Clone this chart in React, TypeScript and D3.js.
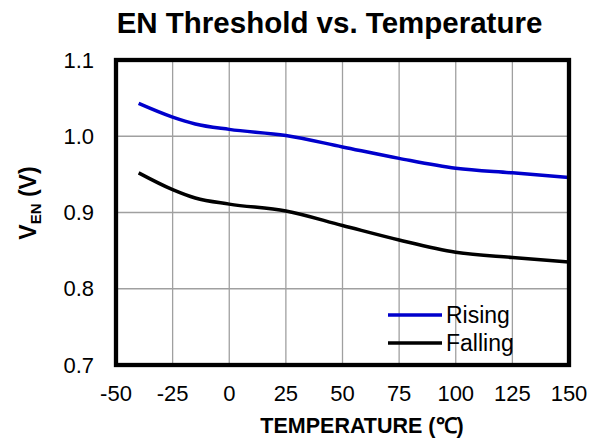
import React from "react";
import * as d3 from "d3";

const temps = [-40, -25, -15, 0, 25, 50, 75, 100, 125, 150];
const rising = [1.043, 1.025, 1.016, 1.009, 1.001, 0.986, 0.971, 0.958, 0.952, 0.946];
const falling = [0.952, 0.93, 0.919, 0.911, 0.902, 0.883, 0.864, 0.848, 0.841, 0.835];
const xTicks = [-50, -25, 0, 25, 50, 75, 100, 125, 150];
const yTicks = [0.7, 0.8, 0.9, 1.0, 1.1];
const seriesNames = ["Rising", "Falling"];
const seriesColors = ["#0000CC", "#000000"];

const W = 596, H = 439;
const L = 116, R = 569, T = 60, B = 365;
const FONT = "Liberation Sans, Arial, sans-serif";

export default function App() {
  const x = d3.scaleLinear().domain([-50, 150]).range([L, R]);
  const y = d3.scaleLinear().domain([0.7, 1.1]).range([B, T]);
  const line = d3
    .line<number>()
    .x((_, i) => x(temps[i]))
    .y((d) => y(d))
    .curve(d3.curveMonotoneX);
  const series = [rising, falling];
  return (
    <svg width={W} height={H} style={{ position: "absolute", left: 0, top: 0, background: "#fff" }}>
      <rect x={0} y={0} width={W} height={H} fill="#fff" />
      {xTicks.slice(1, -1).map((t) => (
        <line key={"gx" + t} x1={x(t)} x2={x(t)} y1={T} y2={B} stroke="#a0a0a0" strokeWidth={1.3} />
      ))}
      {yTicks.slice(1, -1).map((t) => (
        <line key={"gy" + t} x1={L} x2={R} y1={y(t)} y2={y(t)} stroke="#a0a0a0" strokeWidth={1.3} />
      ))}
      {series.map((s, i) => (
        <path key={seriesNames[i]} d={line(s) || ""} fill="none" stroke={seriesColors[i]} strokeWidth={3.5} />
      ))}
      <rect x={L} y={T} width={R - L} height={B - T} fill="none" stroke="#000" strokeWidth={4.3} />
      {xTicks.map((t) => (
        <text key={"tx" + t} x={x(t)} y={401} textAnchor="middle" fontFamily={FONT} fontSize={22}>
          {t}
        </text>
      ))}
      {yTicks.map((t) => (
        <text key={"ty" + t} x={94} y={y(t) + 7.5} textAnchor="end" fontFamily={FONT} fontSize={22}>
          {t.toFixed(1)}
        </text>
      ))}
      <text x={329.5} y={33} textAnchor="middle" fontFamily={FONT} fontSize={29.5} fontWeight="bold">
        EN Threshold vs. Temperature
      </text>
      <text x={362} y={433} textAnchor="middle" fontFamily={FONT} fontSize={21.5} fontWeight="bold">
        TEMPERATURE (℃)
      </text>
      <text
        transform={`translate(36,203) rotate(-90)`}
        textAnchor="middle"
        fontFamily={FONT}
        fontSize={23}
        fontWeight="bold"
      >
        V<tspan fontSize={15} dy={5}>EN</tspan>
        <tspan dy={-5}> (V)</tspan>
      </text>
      {seriesNames.map((n, i) => (
        <g key={"lg" + n}>
          <line x1={388} x2={442} y1={315 + i * 28} y2={315 + i * 28} stroke={seriesColors[i]} strokeWidth={3.5} />
          <text x={446} y={315 + i * 28 + 8} fontFamily={FONT} fontSize={23}>
            {n}
          </text>
        </g>
      ))}
    </svg>
  );
}
